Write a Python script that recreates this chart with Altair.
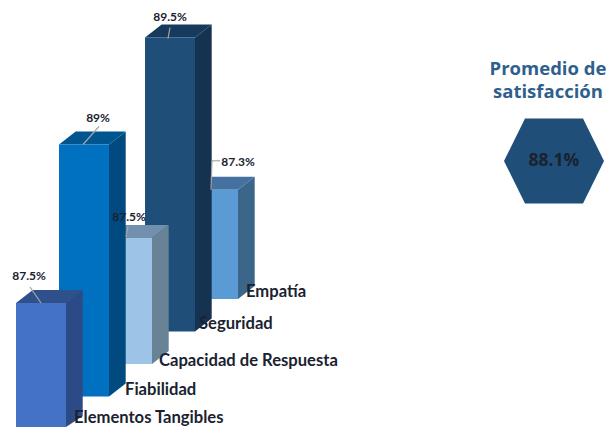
import altair as alt
import pandas as pd

# --- data ---
categories = ["Elementos Tangibles", "Fiabilidad", "Capacidad de Respuesta", "Seguridad", "Empatía"]
values = [87.5, 89.0, 87.5, 89.5, 87.3]
value_labels = ["87.5%", "89%", "87.5%", "89.5%", "87.3%"]
average_label = "88.1%"
panel_title = ["Promedio de", "satisfacción"]

# --- styles ---
front_colors = ["#4472c4", "#0070c0", "#9dc3e6", "#1f4e79", "#5b9bd5"]
side_colors = ["#2c4a85", "#004a80", "#688296", "#153350", "#3b6689"]
top_colors = ["#30508c", "#00548f", "#7290ad", "#163a5c", "#44719f"]
TEXT = "#1a2230"
TITLE = "#2f5f8c"
LEADER = "#a6a6a6"
LABEL_FONT = "Lato"

# --- layout (pixels) ---
W, H = 600, 419
PX_PER_X = 43.0    # horizontal step between consecutive bars
PX_PER_Y = 84.0    # pixels per percentage point
BAR_W = 50 / PX_PER_X
DEPTH_X = 16.7 / PX_PER_X
DEPTH_Y = 13 / PX_PER_Y
STEP_Y = 32.5 / PX_PER_Y
BASE = 86.0
TOP_PX = 421
x_domain = [-8 / PX_PER_X, (W - 8) / PX_PER_X]
y_domain = [BASE + (TOP_PX - H) / PX_PER_Y, BASE + TOP_PX / PX_PER_Y]

X = lambda f: alt.X(f, type="quantitative", scale=alt.Scale(domain=x_domain, nice=False, zero=False, clamp=True), axis=None)
Y = lambda f: alt.Y(f, type="quantitative", scale=alt.Scale(domain=y_domain, nice=False, zero=False, clamp=True), axis=None)

layers = []
for i in reversed(range(len(categories))):
    left, right = i, i + BAR_W
    bottom = BASE + i * STEP_Y
    top = values[i] + i * STEP_Y
    side = pd.DataFrame({
        "x": [right, right + DEPTH_X],
        "y": [bottom, bottom + DEPTH_Y],
        "y2": [top, top + DEPTH_Y],
    })
    cap = pd.DataFrame({
        "y": [top, top + DEPTH_Y],
        "x": [left, left + DEPTH_X],
        "x2": [right, right + DEPTH_X],
    })
    front = pd.DataFrame({"x": [left], "x2": [right], "y": [bottom], "y2": [top]})
    layers.append(alt.Chart(side).mark_area(color=side_colors[i], opacity=1).encode(
        x=X("x"), y=Y("y"), y2="y2"))
    layers.append(alt.Chart(cap).mark_area(orient="horizontal", color=top_colors[i], opacity=1).encode(
        y=Y("y"), x=X("x"), x2="x2"))
    layers.append(alt.Chart(front).mark_rect(color=front_colors[i]).encode(
        x=X("x"), x2="x2", y=Y("y"), y2="y2"))

# leader lines, as pixel offsets from each bar's front-top-left corner
leader_from = [(25, 0), (24, 0), (24, -1), (23, 1), (23, 0)]
leader_to = [(14, -16), (40, -18), (26, -12), (25, -10), (24, -29)]
rows = []
for i in range(len(categories)):
    top = values[i] + i * STEP_Y
    rows.append({
        "x": i + leader_from[i][0] / PX_PER_X, "y": top - leader_from[i][1] / PX_PER_Y,
        "x2": i + leader_to[i][0] / PX_PER_X, "y2": top - leader_to[i][1] / PX_PER_Y,
    })
rows.append({
    "x": 4 + 24 / PX_PER_X, "y": values[4] + 4 * STEP_Y + 29 / PX_PER_Y,
    "x2": 4 + 32 / PX_PER_X, "y2": values[4] + 4 * STEP_Y + 29 / PX_PER_Y,
})
layers.append(alt.Chart(pd.DataFrame(rows)).mark_rule(color=LEADER, strokeWidth=1.2).encode(
    x=X("x"), y=Y("y"), x2="x2", y2="y2"))

# value labels
val_dx = [13, 39, 27, 25, 50]
val_dy = [-27, -27, -21, -21, -28]
val_df = pd.DataFrame({
    "x": [i + val_dx[i] / PX_PER_X for i in range(5)],
    "y": [values[i] + i * STEP_Y - val_dy[i] / PX_PER_Y for i in range(5)],
    "t": value_labels,
})
layers.append(alt.Chart(val_df).mark_text(
    font=LABEL_FONT, fontWeight="bold", fontSize=12, color=TEXT, align="center", baseline="middle"
).encode(x=X("x"), y=Y("y"), text="t:N"))

# category labels
cat_dx = [8, 16, 7, 4, 8]
cat_dy = [-11, -7, -3, -8, -7]
cat_df = pd.DataFrame({
    "x": [i + BAR_W + cat_dx[i] / PX_PER_X for i in range(5)],
    "y": [BASE + i * STEP_Y - cat_dy[i] / PX_PER_Y for i in range(5)],
    "t": categories,
})
layers.append(alt.Chart(cat_df).mark_text(
    font=LABEL_FONT, fontWeight="bold", fontSize=16.6, color=TEXT, align="left", baseline="middle"
).encode(x=X("x"), y=Y("y"), text="t:N"))

# right-hand panel
cx, cy = (554 - 16) / PX_PER_X, BASE + (428 - 160) / PX_PER_Y
panel = pd.DataFrame({"x": [cx], "y": [cy], "t": [average_label]})
HEX = "M-1,0L-0.58,-0.85L0.58,-0.85L1,0L0.58,0.85L-0.58,0.85Z"
layers.append(alt.Chart(panel).mark_point(shape=HEX, size=10000, filled=True, color="#1f4e79", opacity=1).encode(
    x=X("x"), y=Y("y")))
layers.append(alt.Chart(panel).mark_text(
    font="Open Sans", fontWeight="bold", fontSize=17.5, color=TEXT, align="center", baseline="middle"
).encode(x=X("x"), y=Y("y"), text="t:N"))
for line, dy in zip(panel_title, [-92.5, -69]):
    layers.append(alt.Chart(panel).mark_text(
        font="Open Sans", fontWeight="bold", fontSize=18.5, color=TITLE, align="center", baseline="middle",
        dx=-6, dy=dy
    ).encode(x=X("x"), y=Y("y"), text=alt.value(line)))

chart = alt.layer(*layers).properties(
    width=W, height=H, padding=0, autosize=alt.AutoSizeParams(type="none"), background="white"
).configure_view(stroke=None)

chart.save("out.html", embed_options={"renderer": "svg", "actions": False})
